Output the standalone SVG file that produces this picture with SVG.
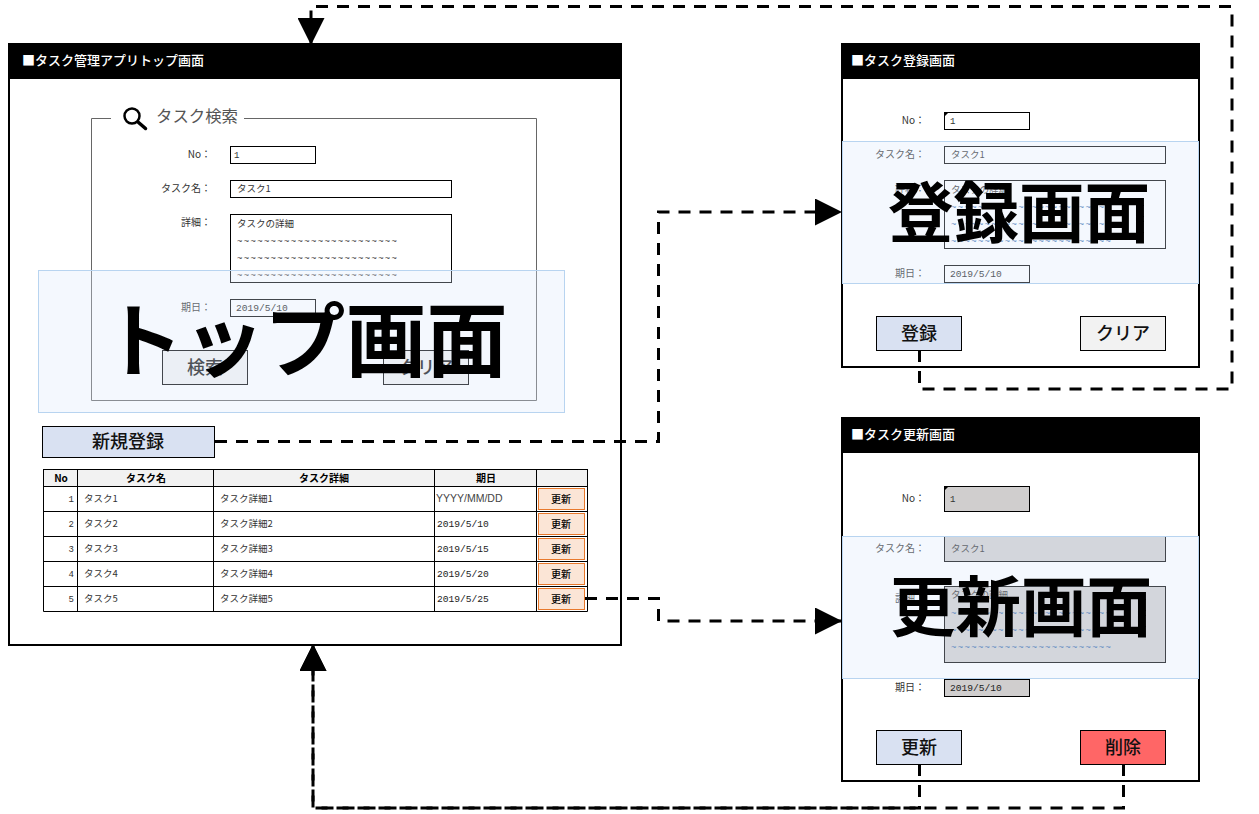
<svg xmlns="http://www.w3.org/2000/svg" width="1259" height="814" viewBox="0 0 1259 814">
<style>
text{font-family:"Noto Sans CJK JP","Noto Sans",sans-serif;fill:#222}
.frame{fill:#fff;stroke:#000;stroke-width:2}
.head{fill:#000}
.title{fill:#fff;font-size:13px;font-weight:500}
.lb{font-size:10px;text-anchor:end;fill:#333}
.v{font-size:9.500px;fill:#333}
.m{font-family:"Liberation Mono",monospace;font-size:9.600px;fill:#222}
.ml{font-family:"Liberation Sans",sans-serif;font-size:10.500px;fill:#444}
.t{font-family:"Liberation Mono",monospace;font-size:9px;fill:#333}
.tw{fill:#1f5fa8}
.in{fill:#fff;stroke:#000;stroke-width:1}
.dis{fill:#d0cece;stroke:#000;stroke-width:1}
.btn{fill:#f2f2f2;stroke:#000;stroke-width:1}
.blue{fill:#d9e1f2;stroke:#000;stroke-width:1}
.red{fill:#ff6666;stroke:#000;stroke-width:1}
.bt{font-size:18px;text-anchor:middle;fill:#111;font-weight:500}
.ov{fill:#dae8fc;fill-opacity:.3;stroke:#b8d4f0;stroke-width:1}
.big{fill:#000;font-weight:700;text-anchor:middle}
.hc{fill:#f2f2f2;stroke:#000;stroke-width:1}
.th{font-size:10px;font-weight:700;text-anchor:middle;fill:#000}
.ub{fill:#fbe5d6;stroke:#e8782a;stroke-width:1}
.ut{font-size:10px;text-anchor:middle;fill:#000;font-weight:500}
.n{text-anchor:end}
.conn{fill:none;stroke:#000;stroke-width:3;stroke-dasharray:12 9}
.corner{fill:#000}
</style>
<defs>
<marker id="arrow" markerUnits="userSpaceOnUse" markerWidth="27" markerHeight="27" refX="26" refY="13.500" orient="auto"><path d="M0 0L27 13.500L0 27Z" fill="#000"/></marker>
</defs>

<g id="top-screen">
<rect class="frame" x="9" y="44" width="612" height="601"/>
<rect class="head" x="9" y="44" width="612" height="35"/>
<text class="title" x="22" y="64.500">■タスク管理アプリトップ画面</text>
<path d="M111 118.500H91.500V400.500H536.500V118.500H244" fill="none" stroke="#666" stroke-width="1"/>
<circle cx="132" cy="116" r="7.500" fill="none" stroke="#000" stroke-width="2.500"/>
<path d="M138 122L145.500 128.500" stroke="#000" stroke-width="3.500" stroke-linecap="round"/>
<text x="156" y="122" style="font-size:16.400px;fill:#555">タスク検索</text>
<text class="lb" x="211" y="158">No：</text>
<rect class="in" x="230.500" y="146.500" width="85" height="17"/>
<text class="t" x="234" y="158">1</text>
<text class="lb" x="211" y="192">タスク名：</text>
<rect class="in" x="230.500" y="180.500" width="221" height="17"/>
<text class="v" x="237" y="192">タスク1</text>
<text class="lb" x="211" y="226">詳細：</text>
<rect class="in" x="230.500" y="214.500" width="221" height="68"/>
<text class="v" x="237" y="227">タスクの詳細</text>
<text class="t" x="237" y="244" textLength="160">~~~~~~~~~~~~~~~~~~~~~~~~</text>
<text class="t" x="237" y="261" textLength="160">~~~~~~~~~~~~~~~~~~~~~~~~</text>
<text class="t" x="237" y="278" textLength="160">~~~~~~~~~~~~~~~~~~~~~~~~</text>
<text class="lb" x="211" y="311">期日：</text>
<rect class="in" x="230.500" y="299.500" width="85" height="17"/>
<text class="m" x="236" y="311">2019/5/10</text>
<rect class="btn" x="162.500" y="350.500" width="85" height="34"/>
<text class="bt" x="205" y="374">検索</text>
<rect class="btn" x="383.500" y="350.500" width="85" height="34"/>
<text class="bt" x="426" y="374">クリア</text>
<rect class="ov" x="38.500" y="270.500" width="526" height="142"/>
<text class="big" x="305" y="369.500" style="font-size:81px">トップ画面</text>
</g>

<g id="new-button">
<rect class="blue" x="42.500" y="426.500" width="172" height="31"/>
<text class="bt" x="128" y="448">新規登録</text>
</g>

<g id="task-table">
<rect class="hc" x="43.500" y="469.500" width="34" height="17"/>
<rect class="hc" x="77.500" y="469.500" width="136" height="17"/>
<rect class="hc" x="213.500" y="469.500" width="221" height="17"/>
<rect class="hc" x="434.500" y="469.500" width="102" height="17"/>
<rect class="hc" x="536.500" y="469.500" width="51" height="17"/>
<text class="th" x="61" y="481.500">No</text>
<text class="th" x="146" y="481.500">タスク名</text>
<text class="th" x="324" y="481.500">タスク詳細</text>
<text class="th" x="486" y="481.500">期日</text>
<path d="M43.500 486.500V611.500H587.500V486.500M77.500 486.500V611.500M213.500 486.500V611.500M434.500 486.500V611.500M536.500 486.500V611.500M43.500 511.500H587.500M43.500 536.500H587.500M43.500 561.500H587.500M43.500 586.500H587.500" fill="none" stroke="#000"/>
<text class="t n" x="74" y="502">1</text><text class="v" x="84" y="502">タスク1</text><text class="v" x="220" y="502">タスク詳細1</text><text class="ml" x="436" y="502">YYYY/MM/DD</text>
<text class="t n" x="74" y="527">2</text><text class="v" x="84" y="527">タスク2</text><text class="v" x="220" y="527">タスク詳細2</text><text class="m" x="437" y="527">2019/5/10</text>
<text class="t n" x="74" y="552">3</text><text class="v" x="84" y="552">タスク3</text><text class="v" x="220" y="552">タスク詳細3</text><text class="m" x="437" y="552">2019/5/15</text>
<text class="t n" x="74" y="577">4</text><text class="v" x="84" y="577">タスク4</text><text class="v" x="220" y="577">タスク詳細4</text><text class="m" x="437" y="577">2019/5/20</text>
<text class="t n" x="74" y="602">5</text><text class="v" x="84" y="602">タスク5</text><text class="v" x="220" y="602">タスク詳細5</text><text class="m" x="437" y="602">2019/5/25</text>
<rect class="ub" x="538.500" y="488.500" width="46" height="21"/><text class="ut" x="561" y="502.500">更新</text>
<rect class="ub" x="538.500" y="513.500" width="46" height="21"/><text class="ut" x="561" y="527.500">更新</text>
<rect class="ub" x="538.500" y="538.500" width="46" height="21"/><text class="ut" x="561" y="552.500">更新</text>
<rect class="ub" x="538.500" y="563.500" width="46" height="21"/><text class="ut" x="561" y="577.500">更新</text>
<rect class="ub" x="538.500" y="588.500" width="46" height="21"/><text class="ut" x="561" y="602.500">更新</text>
</g>

<g id="register-screen">
<rect class="frame" x="842" y="44" width="357" height="323"/>
<rect class="head" x="842" y="44" width="357" height="35"/>
<text class="title" x="851" y="64.500">■タスク登録画面</text>
<text class="lb" x="925" y="124">No：</text>
<rect class="in" x="944.500" y="112.500" width="85" height="17"/>
<path class="corner" d="M944 112h5l-5 5Z"/>
<text class="t" x="950" y="124">1</text>
<text class="lb" x="925" y="158">タスク名：</text>
<rect class="in" x="944.500" y="146.500" width="221" height="17"/>
<text class="v" x="951" y="158">タスク1</text>
<text class="lb" x="925" y="192">詳細：</text>
<rect class="in" x="944.500" y="180.500" width="221" height="68"/>
<text class="v" x="951" y="193">タスクの詳細</text>
<text class="t tw" x="951" y="210" textLength="160">~~~~~~~~~~~~~~~~~~~~~~~~</text>
<text class="t tw" x="951" y="227" textLength="160">~~~~~~~~~~~~~~~~~~~~~~~~</text>
<text class="t tw" x="951" y="244" textLength="160">~~~~~~~~~~~~~~~~~~~~~~~~</text>
<text class="lb" x="925" y="277">期日：</text>
<rect class="in" x="944.500" y="265.500" width="85" height="17"/>
<text class="m" x="950" y="277">2019/5/10</text>
<rect class="ov" x="842.500" y="141.500" width="356" height="142"/>
<text class="big" x="1019" y="237" style="font-size:65.500px">登録画面</text>
<rect class="blue" x="876.500" y="316.500" width="85" height="34"/>
<text class="bt" x="919" y="340">登録</text>
<rect class="btn" x="1080.500" y="316.500" width="85" height="34"/>
<text class="bt" x="1123" y="340">クリア</text>
</g>

<g id="update-screen">
<rect class="frame" x="842" y="418" width="357" height="363"/>
<rect class="head" x="842" y="418" width="357" height="35"/>
<text class="title" x="851" y="438.500">■タスク更新画面</text>
<text class="lb" x="925" y="502">No：</text>
<rect class="dis" x="944.500" y="486.500" width="85" height="25"/>
<path class="corner" d="M944 486h5l-5 5Z"/>
<text class="t" x="950" y="502">1</text>
<text class="lb" x="925" y="552">タスク名：</text>
<rect class="dis" x="944.500" y="536.500" width="221" height="25"/>
<text class="v" x="951" y="552">タスク1</text>
<text class="lb" x="925" y="602">詳細：</text>
<rect class="dis" x="944.500" y="586.500" width="221" height="76"/>
<text class="v" x="951" y="598">タスクの詳細</text>
<text class="t tw" x="951" y="616" textLength="160">~~~~~~~~~~~~~~~~~~~~~~~~</text>
<text class="t tw" x="951" y="633" textLength="160">~~~~~~~~~~~~~~~~~~~~~~~~</text>
<text class="t tw" x="951" y="650" textLength="160">~~~~~~~~~~~~~~~~~~~~~~~~</text>
<rect class="ov" x="842.500" y="536.500" width="356" height="142"/>
<text class="big" x="1021" y="631" style="font-size:65.500px">更新画面</text>
<text class="lb" x="925" y="691">期日：</text>
<rect class="dis" x="944.500" y="679.500" width="85" height="17"/>
<text class="m" x="950" y="691">2019/5/10</text>
<rect class="blue" x="876.500" y="730.500" width="85" height="34"/>
<text class="bt" x="919" y="754">更新</text>
<rect class="red" x="1080.500" y="730.500" width="85" height="34"/>
<text class="bt" x="1123" y="754">削除</text>
</g>

<g id="connectors">
<path class="conn" marker-end="url(#arrow)" d="M919.500 350V389H1232V6.500H311V44"/>
<path class="conn" marker-end="url(#arrow)" d="M215 441.500H658.500V212H841"/>
<path class="conn" marker-end="url(#arrow)" d="M585 598.500H658.500V621H841"/>
<path class="conn" marker-end="url(#arrow)" d="M919.500 764V808H313V645"/>
<path class="conn" marker-end="url(#arrow)" d="M1123.500 764V808H313V645"/>
</g>
</svg>
